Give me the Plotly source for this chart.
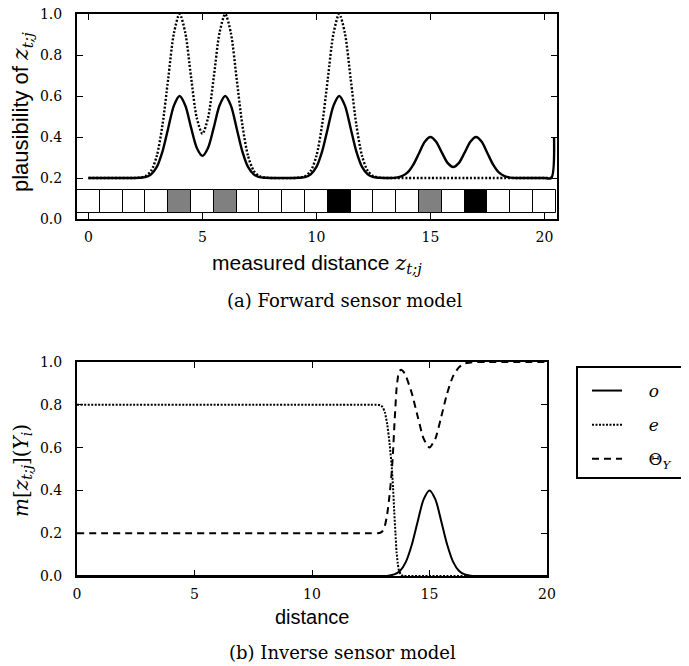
import plotly.graph_objects as go

# ---------------- data: (a) forward sensor model ----------------
fwd_x = [0, 1, 2, 2.25, 2.5, 2.75, 3, 3.25, 3.5, 3.75, 4, 4.25, 4.5, 4.75, 5,
         5.25, 5.5, 5.75, 6, 6.25, 6.5, 6.75, 7, 7.25, 7.5, 7.75, 8, 9,
         9.25, 9.5, 9.75, 10, 10.25, 10.5, 10.75, 11, 11.25, 11.5, 11.75, 12,
         12.25, 12.5, 12.75, 13, 13.25, 13.5, 13.75, 14, 14.25, 14.5, 14.75,
         15, 15.25, 15.5, 15.75, 16, 16.25, 16.5, 16.75, 17, 17.25, 17.5,
         17.75, 18, 18.25, 18.5, 18.75, 19, 20, 20.3, 20.42]
fwd_solid = [0.2, 0.2, 0.2, 0.201, 0.204, 0.218, 0.254, 0.330, 0.443, 0.553,
             0.600, 0.554, 0.447, 0.348, 0.308, 0.348, 0.447, 0.554, 0.600,
             0.553, 0.443, 0.330, 0.254, 0.218, 0.204, 0.201, 0.2, 0.2,
             0.201, 0.204, 0.218, 0.254, 0.330, 0.443, 0.553, 0.600, 0.553,
             0.443, 0.330, 0.254, 0.218, 0.204, 0.201, 0.2, 0.2, 0.202, 0.209,
             0.227, 0.265, 0.321, 0.377, 0.400, 0.377, 0.324, 0.274, 0.254,
             0.274, 0.324, 0.377, 0.400, 0.377, 0.321, 0.265, 0.227, 0.209,
             0.202, 0.2, 0.2, 0.2, 0.2, 0.4]
fwd_dotted = [0.2, 0.2, 0.2, 0.202, 0.209, 0.235, 0.308, 0.460, 0.685, 0.906,
              1.0, 0.908, 0.694, 0.495, 0.416, 0.495, 0.694, 0.908, 1.0,
              0.906, 0.685, 0.460, 0.308, 0.235, 0.209, 0.202, 0.2, 0.2,
              0.202, 0.209, 0.235, 0.308, 0.460, 0.685, 0.906, 1.0, 0.906,
              0.685, 0.460, 0.308, 0.235, 0.209, 0.202, 0.2, 0.2, 0.2, 0.2,
              0.2, 0.2, 0.2, 0.2, 0.2, 0.2, 0.2, 0.2, 0.2, 0.2, 0.2, 0.2, 0.2,
              0.2, 0.2, 0.2, 0.2, 0.2, 0.2, 0.2, 0.2, 0.2, 0.2, 0.2]

# grid cells below the curves: 0 = free, 1 = grey, 2 = black
cell_index = list(range(21))
cell_state = [0, 0, 0, 0, 1, 0, 1, 0, 0, 0, 0, 2, 0, 0, 0, 1, 0, 2, 0, 0, 0]
cell_colors = {0: "#ffffff", 1: "#808080", 2: "#000000"}

# ---------------- data: (b) inverse sensor model ----------------
o_x = [0, 12, 12.5, 12.75, 13, 13.25, 13.5, 13.75, 14, 14.25, 14.5, 14.75,
       15, 15.25, 15.5, 15.75, 16, 16.25, 16.5, 16.75, 17, 17.5, 20]
o_y = [0, 0, 0, 0.0001, 0.0003, 0.0017, 0.0073, 0.0248, 0.0674, 0.147, 0.256,
       0.358, 0.4, 0.358, 0.256, 0.147, 0.0674, 0.0248, 0.0073, 0.0017,
       0.0003, 0, 0]
e_x = [0, 12, 12.5, 12.8, 12.9, 13.0, 13.1, 13.2, 13.3, 13.4, 13.45, 13.5,
       13.55, 13.6, 13.65, 13.7, 13.8, 13.9, 14.0, 20]
e_y = [0.8, 0.8, 0.8, 0.8, 0.798, 0.79, 0.765, 0.71, 0.62, 0.50, 0.41, 0.30,
       0.20, 0.11, 0.06, 0.025, 0.005, 0, 0, 0]
th_x = [0, 12, 12.5, 12.8, 12.9, 13.0, 13.1, 13.2, 13.3, 13.4, 13.45, 13.5,
        13.55, 13.6, 13.65, 13.7, 13.8, 13.9, 14.0, 14.25, 14.5, 14.75, 15,
        15.25, 15.5, 15.75, 16, 16.25, 16.5, 16.75, 17, 17.5, 20]
th_y = [0.2, 0.2, 0.2, 0.2, 0.202, 0.210, 0.234, 0.289, 0.378, 0.496, 0.584,
        0.693, 0.791, 0.878, 0.924, 0.955, 0.964, 0.954, 0.933, 0.853, 0.744,
        0.642, 0.6, 0.642, 0.744, 0.853, 0.933, 0.975, 0.993, 0.998, 1.0,
        1.0, 1.0]

x_ticks = [0, 5, 10, 15, 20]
y_ticks = [0.0, 0.2, 0.4, 0.6, 0.8, 1.0]

# ---------------- figure ----------------
# The page body has an 8px default margin, so the figure is made 8px smaller
# on each axis and all page coordinates are shifted by that offset.
OFF = 8
W, H = 689 - OFF, 666 - OFF
SERIF = "DejaVu Serif"
SANS = "Liberation Sans, Arial, sans-serif"


def px(v):
    return (v - OFF) / W


def py(v):
    return 1 - (v - OFF) / H


fig = go.Figure()

fig.add_trace(go.Bar(
    x=cell_index, y=[0.11] * len(cell_index), base=0.03, width=1.0,
    marker=dict(color=[cell_colors[s] for s in cell_state],
                line=dict(color="black", width=1)),
    xaxis="x", yaxis="y", showlegend=False, hoverinfo="skip"))
fig.add_trace(go.Scatter(
    x=fwd_x[:-1], y=fwd_dotted, mode="lines", xaxis="x", yaxis="y",
    line=dict(color="black", width=2.4, dash="2px,1.8px", shape="spline",
              smoothing=0.8),
    showlegend=False))
fig.add_trace(go.Scatter(
    x=fwd_x, y=fwd_solid, mode="lines", xaxis="x", yaxis="y",
    line=dict(color="black", width=2.4, shape="spline", smoothing=0.8),
    showlegend=False))

NB = "\u00a0" * 4
fig.add_trace(go.Scatter(
    x=o_x, y=o_y, mode="lines", xaxis="x2", yaxis="y2", name=NB + "<i>o</i>",
    legendgroup="o",
    line=dict(color="black", width=2, shape="spline", smoothing=0.8)))
fig.add_trace(go.Scatter(
    x=e_x, y=e_y, mode="lines", xaxis="x2", yaxis="y2", name=NB + "<i>e</i>",
    legendgroup="e",
    line=dict(color="black", width=2, dash="2px,1.5px", shape="spline",
              smoothing=0.6)))
fig.add_trace(go.Scatter(
    x=th_x, y=th_y, mode="lines", xaxis="x2", yaxis="y2",
    name=NB + "\u0398<sub><i>Y</i></sub>", legendgroup="t",
    line=dict(color="black", width=2, dash="7px,5px", shape="spline",
              smoothing=0.6)))

axis_common = dict(
    showline=True, linecolor="black", linewidth=2, mirror="ticks",
    ticks="inside", ticklen=6, tickwidth=1, tickcolor="black",
    showgrid=False, zeroline=False, automargin=False,
    ticklabeloverflow="allow",
    tickfont=dict(family=SERIF, size=14, color="black"),
)

fig.update_layout(
    width=W, height=H,
    margin=dict(l=0, r=0, t=0, b=0, autoexpand=False),
    paper_bgcolor="white", plot_bgcolor="white",
    font=dict(color="black"),
    bargap=0,
    xaxis=dict(domain=[px(77), px(557)], anchor="y", range=[-0.5, 20.55],
               tickvals=x_ticks, ticklabelstandoff=4, **axis_common),
    yaxis=dict(domain=[py(219), py(14)], anchor="x", range=[0, 1],
               tickvals=y_ticks, tickformat=".1f", ticklabelstandoff=10,
               **axis_common),
    xaxis2=dict(domain=[px(77), px(547)], anchor="y2", range=[0, 20],
                tickvals=x_ticks, ticklabelstandoff=4, **axis_common),
    yaxis2=dict(domain=[py(576), py(362)], anchor="x2", range=[0, 1],
                tickvals=y_ticks, tickformat=".1f", ticklabelstandoff=10,
                **axis_common),
    legend=dict(x=px(587), y=py(373), xanchor="left", yanchor="top",
                bgcolor="rgba(0,0,0,0)", borderwidth=0,
                font=dict(family=SERIF, size=17, color="black"),
                tracegroupgap=9),
    showlegend=True,
)

# legend frame (extends past the right edge like the original)
fig.add_shape(type="rect", xref="paper", yref="paper",
              x0=px(577), x1=px(700), y0=py(478), y1=py(367),
              line=dict(color="black", width=2), fillcolor="rgba(0,0,0,0)")

Z = "<span style='font-family:DejaVu Serif'><i>z</i><sub><i>t;j</i></sub></span>"
ann = dict(xref="paper", yref="paper", showarrow=False,
           xanchor="center", yanchor="middle")
fig.add_annotation(text="plausibility of " + Z, textangle=-90,
                   x=px(22), y=py(112), font=dict(family=SANS, size=22,
                                                  color="black"), **ann)
fig.add_annotation(text="measured distance " + Z,
                   x=px(317), y=py(264), font=dict(family=SANS, size=21,
                                                   color="black"), **ann)
fig.add_annotation(text="(a) Forward sensor model",
                   x=px(344), y=py(300), font=dict(family=SERIF, size=18,
                                                   color="black"), **ann)
fig.add_annotation(text="<i>m</i>[<i>z</i><sub><i>t;j</i></sub>](<i>Y</i><sub><i>i</i></sub>)",
                   textangle=-90, x=px(22), y=py(471),
                   font=dict(family=SERIF, size=20, color="black"), **ann)
fig.add_annotation(text="distance", x=px(312), y=py(617),
                   font=dict(family=SANS, size=20, color="black"), **ann)
fig.add_annotation(text="(b) Inverse sensor model",
                   x=px(342), y=py(652), font=dict(family=SERIF, size=18,
                                                   color="black"), **ann)

fig.write_html("out.html")
